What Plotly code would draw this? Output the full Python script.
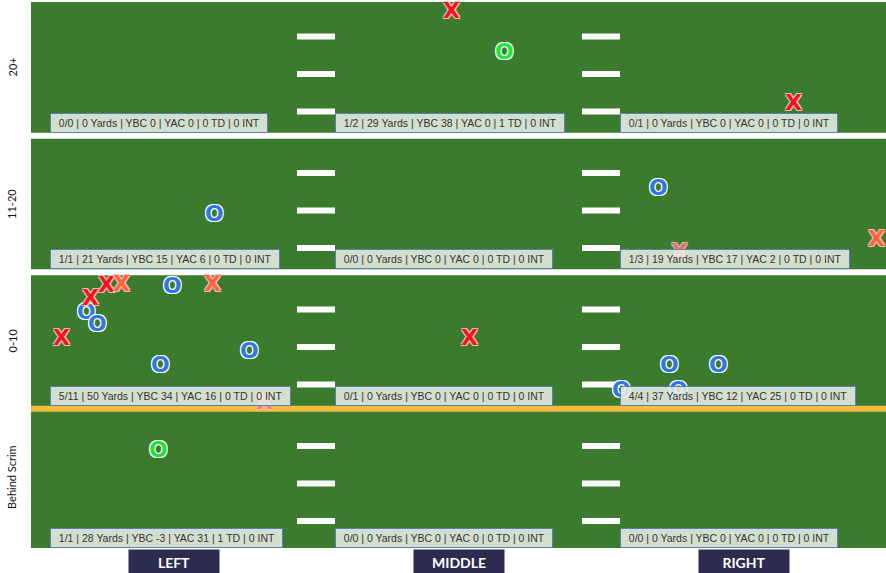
import plotly.graph_objects as go

# ---------------- data ----------------
columns = ["LEFT", "MIDDLE", "RIGHT"]
rows = ["Behind Scrim", "0-10", "11-20", "20+"]          # bottom -> top

# per-cell stats, rows bottom->top, columns left->right
completions = [[1, 0, 0], [5, 0, 4], [1, 0, 1], [0, 1, 0]]
attempts    = [[1, 0, 0], [11, 1, 4], [1, 0, 3], [0, 2, 1]]
yards       = [[28, 0, 0], [50, 0, 37], [21, 0, 19], [0, 29, 0]]
ybc         = [[-3, 0, 0], [34, 0, 12], [15, 0, 17], [0, 38, 0]]
yac         = [[31, 0, 0], [16, 0, 25], [6, 0, 2], [0, 0, 0]]
tds         = [[1, 0, 0], [0, 0, 0], [0, 0, 0], [0, 1, 0]]
ints        = [[0, 0, 0], [0, 0, 0], [0, 0, 0], [0, 0, 0]]

# pass locations (x: 0-3 across LEFT/MIDDLE/RIGHT, y: 0-4 across depth bands)
complete_x = [0.645, 2.203, 0.497, 0.194, 0.232, 0.455, 0.765, 2.242, 2.414, 2.073, 2.273]
complete_y = [2.432, 2.621, 1.900, 1.712, 1.621, 1.327, 1.426, 1.327, 1.327, 1.144, 1.137]
td_x = [1.663, 0.446]
td_y = [3.618, 0.701]
incomplete_x = [1.476, 2.677, 0.208, 0.265, 0.106, 1.537]
incomplete_y = [3.917, 3.243, 1.818, 1.910, 1.525, 1.525]
dropped_x = [0.319, 0.636, 2.968]
dropped_y = [1.914, 1.914, 2.243]
faded_x = [0.818, 2.277]
faded_y = [1.049, 2.155]

hash_offsets = [0.177, 0.452, 0.727]
y_range = [-0.0205, 3.979]

# ---------------- figure ----------------
fig = go.Figure()
# invisible trace so the axes exist
fig.add_trace(go.Scatter(x=complete_x + td_x + incomplete_x + dropped_x + faded_x,
                         y=complete_y + td_y + incomplete_y + dropped_y + faded_y,
                         mode="markers", marker=dict(opacity=0), hoverinfo="skip",
                         showlegend=False))

white_shadow = "1px 1px 0 #fff, -1px -1px 0 #fff, 1px -1px 0 #fff, -1px 1px 0 #fff"
pink_shadow = ("1px 1px 0 rgba(255,190,190,0.95), -1px -1px 0 rgba(255,190,190,0.95), "
               "1px -1px 0 rgba(255,190,190,0.95), -1px 1px 0 rgba(255,190,190,0.95)")

annotations = []

def glyphs(xs, ys, ch, color, shadow, opacity=1.0):
    for x, y in zip(xs, ys):
        annotations.append(dict(
            text=ch, xref="x", yref="y", x=x, y=y, xanchor="center", yanchor="middle",
            showarrow=False, opacity=opacity,
            font=dict(family="DejaVu Sans", size=22, color=color,
                      weight="bold", shadow=shadow)))

glyphs(complete_x, complete_y, "O", "#2f78e0", white_shadow)
glyphs(td_x, td_y, "O", "#1fe43c", white_shadow)
glyphs(incomplete_x, incomplete_y, "X", "#f0141f", pink_shadow)
glyphs(dropped_x, dropped_y, "X", "#ff643a", pink_shadow)
glyphs(faded_x, faded_y, "X", "#f6727e", pink_shadow, opacity=0.85)

shapes = []
# band separators
for b, col in [(1, "#f4bd40"), (2, "#ffffff"), (3, "#ffffff")]:
    shapes.append(dict(type="line", xref="x", yref="y", x0=0, x1=3, y0=b, y1=b,
                       line=dict(color=col, width=6), layer="below"))
# hash marks on column boundaries
for b in range(len(rows)):
    for c in (1, 2):
        for off in hash_offsets:
            shapes.append(dict(type="rect", xref="x", yref="y",
                               xsizemode="pixel", ysizemode="pixel",
                               xanchor=c, yanchor=b + off,
                               x0=-19, x1=19, y0=-3, y1=3,
                               fillcolor="#ffffff", line=dict(width=0), layer="below"))

pad = "\u00a0\u00a0"
# stats boxes
for r in range(len(rows)):
    for c in range(len(columns)):
        txt = (f"{completions[r][c]}/{attempts[r][c]} | {yards[r][c]} Yards | "
               f"YBC {ybc[r][c]} | YAC {yac[r][c]} | {tds[r][c]} TD | {ints[r][c]} INT")
        annotations.append(dict(
            text=pad + txt + pad, xref="x", yref="y", x=c, xanchor="left", xshift=18.5,
            y=(r if r > 0 else y_range[0]), yanchor="bottom", yshift=(3 if r > 0 else 0),
            showarrow=False, height=14, borderpad=2, borderwidth=1,
            bordercolor="#5a7fb6", bgcolor="rgba(236,240,233,0.86)",
            font=dict(family="Liberation Sans, Arial", size=10.5, color="#333333")))
# column labels
for c, name in enumerate(columns):
    annotations.append(dict(
        text=name, xref="x", yref="paper", x=c + 0.5, y=0, yanchor="top", yshift=-1,
        showarrow=False, width=90, height=24, borderpad=0, bgcolor="#2d2b4f",
        font=dict(family="Lato", size=14, color="#ffffff", weight="bold")))
# row labels
for r, name in enumerate(rows):
    annotations.append(dict(
        text=name, xref="paper", yref="y", x=0, xanchor="center", xshift=-19,
        y=r + 0.5, textangle=-90, showarrow=False,
        font=dict(family="Lato", size=11, color="#111111")))

fig.update_layout(
    width=886, height=573,
    margin=dict(l=31, r=0, t=2, b=25),
    paper_bgcolor="#ffffff", plot_bgcolor="#3b7b2d",
    shapes=shapes, annotations=annotations,
    xaxis=dict(range=[0, 3], showgrid=False, zeroline=False, showticklabels=False,
               fixedrange=True, showline=False),
    yaxis=dict(range=y_range, showgrid=False, zeroline=False, showticklabels=False,
               fixedrange=True, showline=False),
    showlegend=False,
)

fig.write_html("out.html", config={"displayModeBar": False},
               post_script="document.body.style.margin='0';")
